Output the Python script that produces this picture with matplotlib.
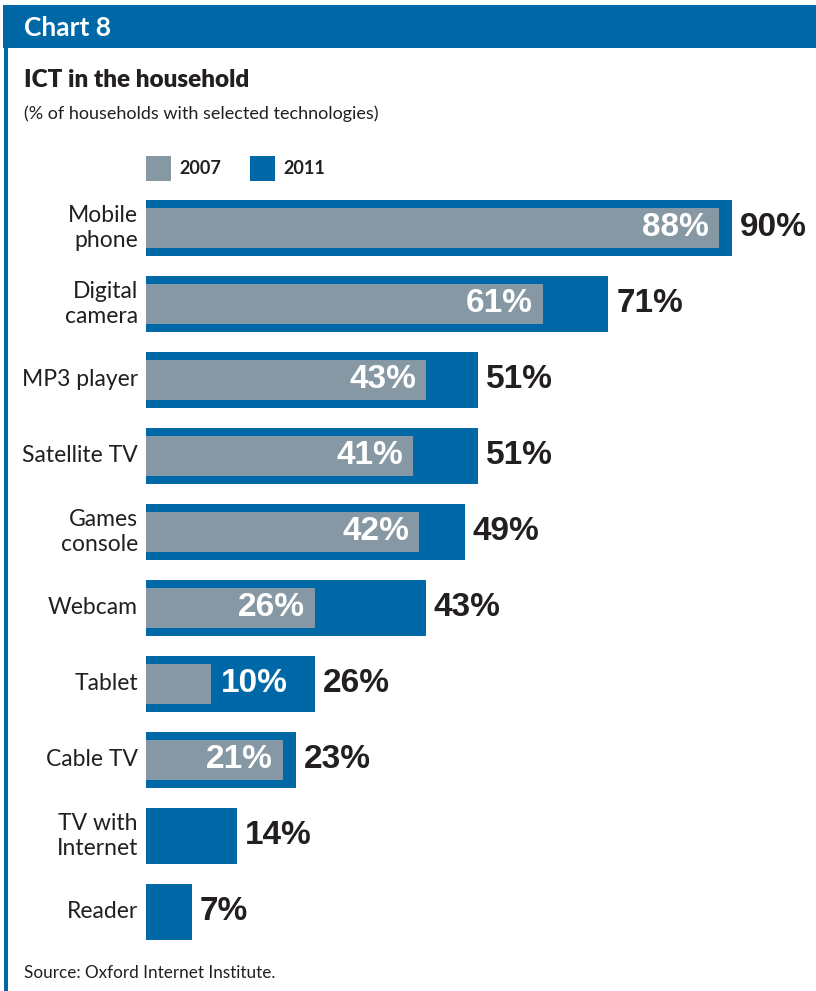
import matplotlib
matplotlib.use('Agg')
import matplotlib.pyplot as plt
from matplotlib.patches import Rectangle
import matplotlib.transforms as mtransforms

# data
categories = ['Mobile\nphone', 'Digital\ncamera', 'MP3 player', 'Satellite TV', 'Games\nconsole',
              'Webcam', 'Tablet', 'Cable TV', 'TV with\nInternet', 'Reader']
vals_2007 = [88, 61, 43, 41, 42, 26, 10, 21, None, None]
vals_2011 = [90, 71, 51, 51, 49, 43, 26, 23, 14, 7]
legend_labels = ['2007', '2011']

BLUE = '#0068a6'
GREY = '#8598a3'
DARK = '#231f20'
TXT = ['Lato', 'DejaVu Sans']
NUM = ['Liberation Sans', 'DejaVu Sans']

W, H = 816, 991
fig = plt.figure(figsize=(W / 100, H / 100), dpi=100)

def fx(px):
    return px / W

def fy(py):
    return 1 - py / H

# header band + left rule
fig.patches.append(Rectangle((fx(3), fy(48)), fx(813), 43 / H, transform=fig.transFigure,
                             facecolor=BLUE, edgecolor='none'))
fig.patches.append(Rectangle((fx(4), 0), fx(3.5), fy(48), transform=fig.transFigure,
                             facecolor=BLUE, edgecolor='none'))
fig.text(fx(24), fy(28), 'Chart 8', color='white', fontsize=19, fontweight='bold',
         family=TXT, va='center', ha='left')

fig.text(fx(24), fy(80), 'ICT in the household', color=DARK, fontsize=17.5, fontweight='heavy',
         family=TXT, va='center', ha='left')
fig.text(fx(24), fy(114), '(% of households with selected technologies)', color=DARK,
         fontsize=13, family=TXT, va='center', ha='left')
fig.text(fx(24), fy(973), 'Source: Oxford Internet Institute.', color=DARK,
         fontsize=12.3, family=TXT, va='center', ha='left')

# legend
for i, (lab, col) in enumerate(zip(legend_labels, [GREY, BLUE])):
    x0 = 146 + i * 104
    fig.patches.append(Rectangle((fx(x0), fy(181)), fx(25), 25 / H, transform=fig.transFigure,
                                 facecolor=col, edgecolor='none'))
    fig.text(fx(x0 + 33), fy(169), lab, color=DARK, fontsize=13, fontweight='bold',
             family=TXT, va='center', ha='left')

# bars
ax = fig.add_axes([fx(146), fy(950), fx(651), 760 / H])
n = len(categories)
ypos = list(range(n))
ax.barh(ypos, vals_2011, height=0.725, color=BLUE, edgecolor='none')
ypos_07 = [y for y, v in zip(ypos, vals_2007) if v is not None]
v07 = [v for v in vals_2007 if v is not None]
ax.barh(ypos_07, v07, height=0.515, color=GREY, edgecolor='none')
ax.set_xlim(0, 100)
ax.set_ylim(n - 0.5, -0.5)
ax.axis('off')

off = lambda dx: mtransforms.offset_copy(ax.transData, fig=fig, x=dx, y=0, units='dots')

for y, v in zip(ypos, vals_2011):
    ax.text(v, y, f'{v}%', transform=off(8), ha='left', va='center', color=DARK,
            fontsize=24, fontweight='bold', family=NUM)
for y, v in zip(ypos, vals_2007):
    if v is None:
        continue
    if v >= 15:
        ax.text(v, y, f'{v}%', transform=off(-10), ha='right', va='center', color='white',
                fontsize=24, fontweight='bold', family=NUM)
    else:
        ax.text(v, y, f'{v}%', transform=off(10), ha='left', va='center', color='white',
                fontsize=24, fontweight='bold', family=NUM)

for y, lab in zip(ypos, categories):
    ax.text(0, y, lab, transform=off(-8), ha='right', va='center', color=DARK,
            fontsize=16.5, family=TXT, linespacing=1.2)

fig.savefig('out.png', dpi=100, facecolor='white')
